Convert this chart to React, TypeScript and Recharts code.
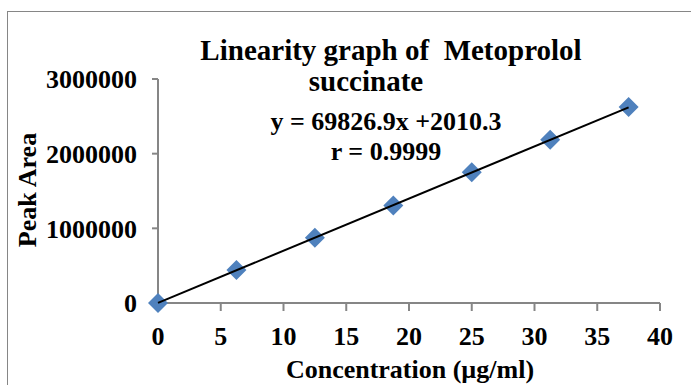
import React from 'react';
import { ScatterChart, Scatter, XAxis, YAxis } from 'recharts';

// Calibration standards (µg/ml) and measured peak areas
const concentration = [0, 6.25, 12.5, 18.75, 25, 31.25, 37.5];
const peakArea = [0, 442000, 875000, 1305000, 1752000, 2185000, 2625000];

// Linear trendline ends (y = 69826.9x + 2010.3)
const trendX = [0, 37.5];
const trendY = [2010, 2620520];

const xTicks = [0, 5, 10, 15, 20, 25, 30, 35, 40];
const yTicks = [0, 1000000, 2000000, 3000000];

const points = concentration.map((x, i) => ({ x, y: peakArea[i] }));
const trend = trendX.map((x, i) => ({ x, y: trendY[i] }));

const serif = '"Liberation Serif", "Times New Roman", serif';
const axisColor = '#868686';
const tickStyle = { fill: '#000', fontSize: 26, fontWeight: 'bold', fontFamily: serif };

const Diamond = (props: any) => {
  const { cx, cy } = props;
  const r = 10;
  return (
    <polygon
      points={`${cx},${cy - r} ${cx + r},${cy} ${cx},${cy + r} ${cx - r},${cy}`}
      fill="#4F81BD"
    />
  );
};

const NoMark = () => <g />;

// centred text helper for the chart annotations
const Caption = ({ cx, cy, size, children }: { cx: number; cy: number; size: number; children: React.ReactNode }) => (
  <div
    style={{
      position: 'absolute',
      left: cx - 250,
      top: cy - size * 0.6,
      width: 500,
      height: size * 1.2,
      lineHeight: `${size * 1.2}px`,
      textAlign: 'center',
      fontFamily: serif,
      fontWeight: 'bold',
      fontSize: size,
      color: '#000',
      whiteSpace: 'pre',
    }}
  >
    {children}
  </div>
);

const App: React.FC = () => {
  return (
    <div style={{ position: 'absolute', left: 0, top: 0, width: 691, height: 385, overflow: 'hidden', background: '#fff' }}>
      <div
        style={{
          position: 'absolute',
          left: 7,
          top: 11,
          width: 720,
          height: 420,
          border: `1.5px solid ${axisColor}`,
        }}
      />
      <div style={{ position: 'absolute', left: 0, top: 0 }}>
        <ScatterChart width={691} height={385} margin={{ top: 79, right: 31, left: 0, bottom: 42 }}>
          <XAxis
            type="number"
            dataKey="x"
            domain={[0, 40]}
            ticks={xTicks}
            height={40}
            tickSize={8}
            tickMargin={16}
            axisLine={{ stroke: axisColor, strokeWidth: 2 }}
            tickLine={{ stroke: axisColor, strokeWidth: 2 }}
            tick={tickStyle}
          />
          <YAxis
            type="number"
            dataKey="y"
            domain={[0, 3000000]}
            ticks={yTicks}
            width={158}
            tickSize={6}
            tickMargin={15}
            axisLine={{ stroke: axisColor, strokeWidth: 2 }}
            tickLine={{ stroke: axisColor, strokeWidth: 2 }}
            tick={tickStyle}
          />
          <Scatter data={points} shape={Diamond} isAnimationActive={false} />
          <Scatter
            data={trend}
            line={{ stroke: '#000', strokeWidth: 2 }}
            shape={NoMark}
            isAnimationActive={false}
          />
        </ScatterChart>
      </div>
      <Caption cx={391} cy={50} size={29}>Linearity graph of  Metoprolol</Caption>
      <Caption cx={366} cy={81} size={29}>succinate</Caption>
      <Caption cx={386} cy={122} size={26}>y = 69826.9x +2010.3</Caption>
      <Caption cx={386} cy={152} size={26}>r = 0.9999</Caption>
      <Caption cx={410} cy={370} size={26}>Concentration (µg/ml)</Caption>
      <div
        style={{
          position: 'absolute',
          left: 28 - 100,
          top: 190 - 15,
          width: 200,
          height: 30,
          lineHeight: '30px',
          textAlign: 'center',
          fontFamily: serif,
          fontWeight: 'bold',
          fontSize: 26,
          transform: 'rotate(-90deg)',
        }}
      >
        Peak Area
      </div>
    </div>
  );
};

export default App;
